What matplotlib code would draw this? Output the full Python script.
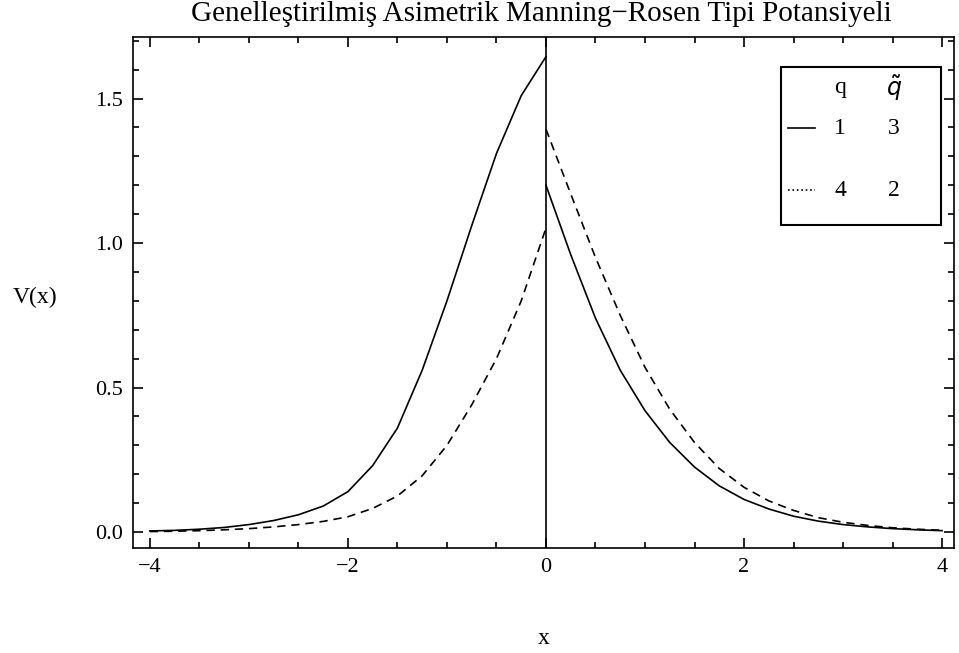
import numpy as np
import matplotlib
matplotlib.use("Agg")
import matplotlib.pyplot as plt
from matplotlib.ticker import MultipleLocator

plt.rcParams['font.family'] = ['Liberation Serif', 'DejaVu Serif']

# values
x_left = [-4.0, -3.75, -3.5, -3.25, -3.0, -2.75, -2.5, -2.25, -2.0, -1.75, -1.5,
          -1.25, -1.0, -0.75, -0.5, -0.25, 0.0]
solid_left = [0.004, 0.006, 0.01, 0.016, 0.026, 0.04, 0.06, 0.09, 0.14, 0.23, 0.36,
              0.56, 0.80, 1.06, 1.31, 1.51, 1.645]
dashed_left = [0.002, 0.003, 0.005, 0.008, 0.012, 0.018, 0.026, 0.037, 0.053, 0.082, 0.125,
               0.195, 0.30, 0.44, 0.60, 0.80, 1.052]

x_right = [0.0, 0.25, 0.5, 0.75, 1.0, 1.25, 1.5, 1.75, 2.0, 2.25, 2.5, 2.75, 3.0,
           3.25, 3.5, 3.75, 4.0]
solid_right = [1.20, 0.96, 0.74, 0.56, 0.42, 0.31, 0.225, 0.16, 0.113, 0.08, 0.055, 0.038,
               0.026, 0.018, 0.012, 0.008, 0.005]
dashed_right = [1.394, 1.17, 0.95, 0.75, 0.57, 0.425, 0.31, 0.22, 0.155, 0.108, 0.075, 0.05,
                0.034, 0.023, 0.015, 0.01, 0.006]

legend_head = ["q", "$\\tilde{q}$"]
legend_rows = [("1", "3"), ("4", "2")]

title = "Genelleştirilmiş Asimetrik Manning\u2212Rosen Tipi Potansiyeli"

fig = plt.figure(figsize=(9.59, 6.53), dpi=100)
ax = fig.add_axes([133/959, 1-548/653, (954-133)/959, (548-37)/653])

ax.plot(x_left, solid_left, color='black', lw=1.2)
ax.plot(x_right, solid_right, color='black', lw=1.2)
ax.plot(x_left, dashed_left, color='black', lw=1.2, linestyle=(0, (5, 3.5)))
ax.plot(x_right, dashed_right, color='black', lw=1.2, linestyle=(0, (5, 3.5)))
ax.axvline(0, color='black', lw=1.2)

ax.set_xlim(-4.17, 4.12)
ax.set_ylim(-0.055, 1.713)

ax.set_xticks([-4, -2, 0, 2, 4])
ax.set_xticklabels(["\u22124", "\u22122", "0", "2", "4"])
ax.set_yticks([0.0, 0.5, 1.0, 1.5])
ax.set_yticklabels(["0.0", "0.5", "1.0", "1.5"])
ax.xaxis.set_minor_locator(MultipleLocator(0.5))
ax.yaxis.set_minor_locator(MultipleLocator(0.1))
ax.tick_params(which='both', direction='in', top=True, right=True, labelsize=16, width=1.2)
ax.tick_params(which='major', length=7, pad=7)
ax.tick_params(which='minor', length=4)
for s in ax.spines.values():
    s.set_linewidth(1.2)

fig.text(541/959, 1-14/653, title, ha='center', va='center', fontsize=21)
fig.text(35/959, 1-297/653, "V(x)", ha='center', va='center', fontsize=17)
fig.text(544/959, 1-638/653, "x", ha='center', va='center', fontsize=17)

# legend box drawn in pixel positions converted to axes fractions
def ax_xy(px, py):
    return ((px-133)/(954-133), (548-py)/(548-37))

x0, y0 = ax_xy(781, 225)
x1, y1 = ax_xy(941, 67)
ax.add_patch(plt.Rectangle((x0, y0), x1-x0, y1-y0, transform=ax.transAxes,
                           facecolor='white', edgecolor='black', lw=1.5, zorder=5))
cq, cqt = ax_xy(840, 0)[0], ax_xy(894, 0)[0]
hy = ax_xy(0, 88)[1]
ax.text(cq, hy, legend_head[0], transform=ax.transAxes, ha='center', va='center', fontsize=17, zorder=6)
ax.text(cqt, hy, legend_head[1], transform=ax.transAxes, ha='center', va='center', fontsize=17, zorder=6)
row_y = [128, 190]
styles = ['-', ':']
for (a, b), py, st in zip(legend_rows, row_y, styles):
    ry = ax_xy(0, py)[1]
    lx0, lx1 = ax_xy(788, 0)[0], ax_xy(815, 0)[0]
    ax.plot([lx0, lx1], [ry, ry], transform=ax.transAxes, color='black', lw=1.2, linestyle=st, zorder=6)
    ax.text(cq, ry, a, transform=ax.transAxes, ha='center', va='center', fontsize=17, zorder=6)
    ax.text(cqt, ry, b, transform=ax.transAxes, ha='center', va='center', fontsize=17, zorder=6)

fig.savefig("out.png", dpi=100)
